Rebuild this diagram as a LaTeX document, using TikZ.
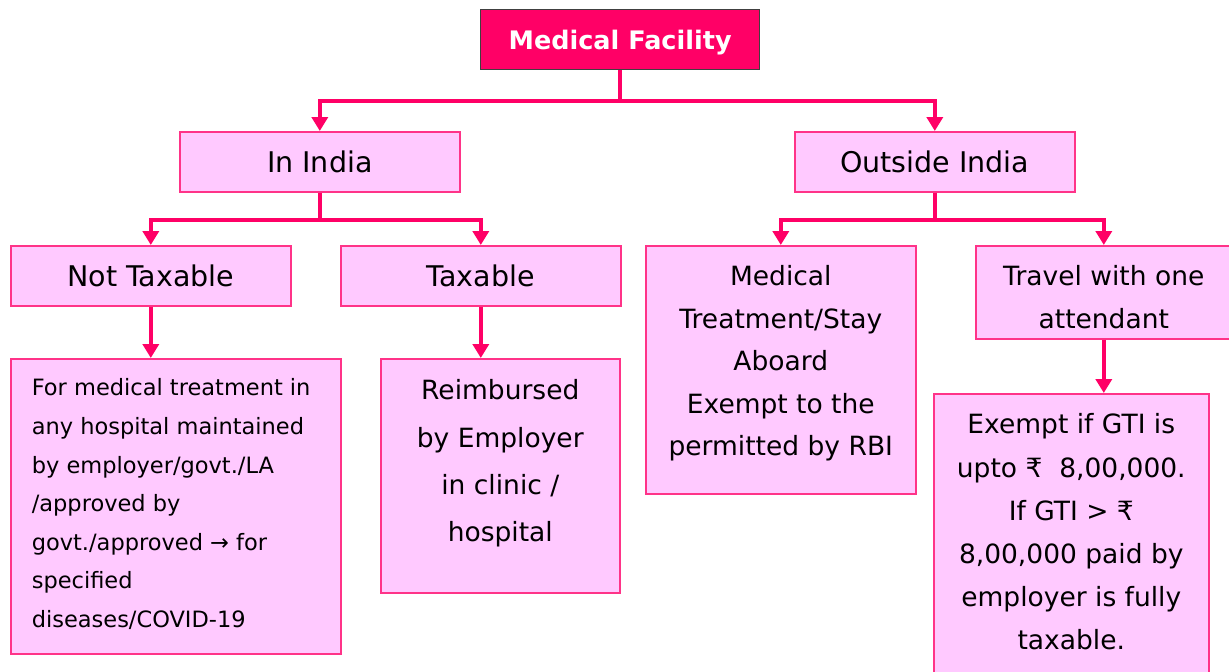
\documentclass[tikz,border=0pt]{standalone}
\usepackage{fontspec}
\setmainfont{DejaVu Sans}
\newfontfamily\symfont{DejaVu Sans}
\usetikzlibrary{arrows.meta}
\definecolor{deeppink}{HTML}{FF0066}
\definecolor{boxfill}{HTML}{FFC9FF}
\definecolor{boxline}{HTML}{FF3388}
\definecolor{topline}{HTML}{404040}
\newcommand\rupee{{\symfont ₹}}
\newcommand\rarr{{\symfont →}}
\newcommand\boxtxt[4]{\parbox[c][#2][t]{#1}{\vspace*{#3}#4}}
\tikzset{
  box/.style={draw=boxline, fill=boxfill, line width=1.6pt, inner sep=0pt, anchor=north west},
  onebox/.style={box, minimum width=#1, minimum height=60pt, font=\fontsize{28.5}{32}\selectfont},
  topbox/.style={draw=topline, fill=deeppink, line width=1.3pt, inner sep=0pt, anchor=north west,
    minimum width=279pt, minimum height=60pt, text depth=0pt, text=white, font=\fontsize{25.5}{30}\selectfont\bfseries},
  arr/.style={draw=deeppink, line width=4.2pt, -{Triangle[width=16pt,length=14pt]}},
  conn/.style={draw=deeppink, line width=4.2pt}
}
\begin{document}
\begin{tikzpicture}[x=1pt,y=-1pt]
\clip (0,0) rectangle (1229,672);
\fill[white] (0,0) rectangle (1229,672);

\node[topbox] (mf) at (480,9) {Medical Facility};

\node[onebox=280pt] (india) at (179,131) {In India};
\node[onebox=280pt] (outside) at (794,131) {Outside India};

\node[onebox=280pt] (nt) at (10,245) {Not Taxable};
\node[onebox=280pt] (tx) at (340,245) {Taxable};

\node[box] (med) at (645,245) {\boxtxt{270pt}{248pt}{20pt}{\fontsize{26.5}{42.5}\selectfont\centering
  Medical\\Treatment/Stay\\Aboard\\Exempt to the\\permitted by RBI\par}};
\node[box] (trav) at (975,245) {\boxtxt{256pt}{93pt}{20pt}{\fontsize{26.5}{42.5}\selectfont\centering
  Travel with one\\attendant\par}};

\node[box] (lb) at (10,358) {\boxtxt{330pt}{295pt}{20pt}{\fontsize{22.5}{38.6}\selectfont\raggedright\leftskip=21pt
  For medical treatment in\\any hospital maintained\\by employer/govt./LA\\/approved by\\govt./approved \rarr{} for\\specified\\diseases/COVID-19\par}};
\node[box] (rb) at (380,358) {\boxtxt{239pt}{234pt}{21pt}{\fontsize{26.5}{47.3}\selectfont\centering
  Reimbursed\\by Employer\\in clinic /\\hospital\par}};
\node[box] (gti) at (933,393) {\boxtxt{275pt}{300pt}{20pt}{\fontsize{26.5}{43.2}\selectfont\centering
  Exempt if GTI is\\upto \rupee{}~ 8,00,000.\\If GTI > \rupee\\8,00,000 paid by\\employer is fully\\taxable.\par}};

\draw[conn] (mf.south) -- ++(0,31) coordinate (j1);
\draw[arr] (j1) -| (india.north);
\draw[arr] (j1) -| (outside.north);
\draw[conn] (india.south) -- ++(0,27) coordinate (j2);
\draw[arr] (j2) -| (nt.north);
\draw[arr] (j2) -| (tx.north);
\draw[conn] (outside.south) -- ++(0,27) coordinate (j3);
\draw[arr] (j3) -| (med.north);
\draw[arr] (j3) -| (trav.north);
\draw[arr] (nt.south) -- (nt.south |- lb.north);
\draw[arr] (tx.south) -- (tx.south |- rb.north);
\draw[arr] (trav.south) -- (trav.south |- gti.north);
\end{tikzpicture}
\end{document}
